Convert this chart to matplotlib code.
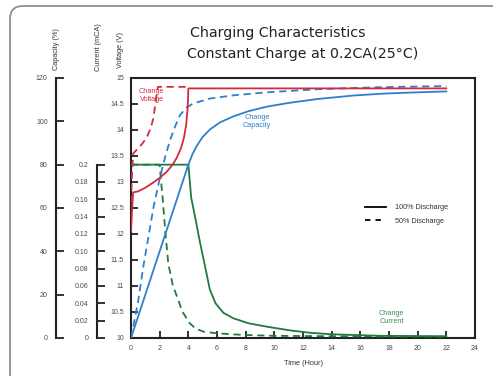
import matplotlib
matplotlib.use('Agg')
import matplotlib.pyplot as plt
from matplotlib.lines import Line2D
from matplotlib.patches import FancyBboxPatch
from matplotlib.transforms import IdentityTransform

# ---------------- data ----------------
# Voltage (V), 100% discharge (solid) and 50% discharge (dashed)
volt100_t = [0, 0.08, 0.15, 0.5, 1.0, 1.5, 2.0, 2.5, 2.9, 3.2, 3.5, 3.7, 3.85, 3.94, 3.98, 4.0, 22]
volt100_v = [12.05, 12.5, 12.8, 12.82, 12.89, 12.98, 13.08, 13.2, 13.33, 13.47, 13.66, 13.86, 14.1, 14.38, 14.6, 14.8, 14.8]
volt50_t = [0, 0.08, 0.16, 0.5, 0.8, 1.1, 1.35, 1.56, 1.7, 1.82, 1.88, 4.0]
volt50_v = [12.6, 13.25, 13.55, 13.65, 13.74, 13.86, 14.02, 14.22, 14.5, 14.75, 14.83, 14.83]

# Capacity (%)
cap100_t = [0, 4.0, 4.3, 4.6, 5.0, 5.5, 6.2, 7.15, 8.2, 9.5, 11, 13, 15.5, 17.6, 20, 22]
cap100_v = [0, 80, 85, 88.8, 92.8, 96.2, 99.5, 102.3, 104.7, 106.8, 108.5, 110.3, 111.9, 112.8, 113.4, 113.8]
cap50_t = [0, 0.5, 0.86, 1.2, 1.56, 2.03, 2.4, 2.73, 3.1, 3.43, 3.9, 4.36, 5.5, 7.15, 9.5, 13, 17, 22]
cap50_v = [0, 17, 33, 46, 60, 74.4, 84, 91.4, 98, 103, 106.5, 108.3, 110.5, 112, 113.4, 114.8, 115.7, 116.3]

# Current (CA)
cur100_t = [0, 4.0, 4.2, 4.5, 4.83, 5.2, 5.5, 5.9, 6.45, 7.15, 8.2, 9.5, 11, 12.5, 14, 17.4, 22]
cur100_v = [0.2, 0.2, 0.162, 0.137, 0.109, 0.08, 0.056, 0.04, 0.029, 0.0227, 0.017, 0.013, 0.009, 0.006, 0.0043, 0.0025, 0.002]
cur50_t = [0, 2.0, 2.1, 2.2, 2.38, 2.6, 2.9, 3.2, 3.6, 4.1, 4.5, 5.06, 6.0, 7.85, 10, 14, 22]
cur50_v = [0.2, 0.2, 0.18, 0.163, 0.125, 0.086, 0.062, 0.048, 0.03, 0.017, 0.011, 0.0073, 0.0054, 0.0035, 0.0025, 0.002, 0.0015]

x_ticks = list(range(0, 25, 2))
volt_ticks = [10, 10.5, 11, 11.5, 12, 12.5, 13, 13.5, 14, 14.5, 15]
volt_labels = ['10', '10.5', '11', '11.5', '12', '12.5', '13', '13.5', '14', '14.5', '15']
cur_ticks = [0, 0.02, 0.04, 0.06, 0.08, 0.10, 0.12, 0.14, 0.16, 0.18, 0.2]
cur_labels = ['0', '0.02', '0.04', '0.06', '0.08', '0.10', '0.12', '0.14', '0.16', '0.18', '0.2']
cap_ticks = [0, 20, 40, 60, 80, 100, 120]

RED = '#d42a3e'
BLUE = '#2f7fcc'
GREEN = '#207a3e'
TXT = '#4a4a4a'
SPINE = '#222222'
FONT = 'Liberation Sans'

W, H = 493, 376
fig = plt.figure(figsize=(W / 100, H / 100), dpi=100)

# outer rounded frame
frame = FancyBboxPatch((10, -12), 520, H - 6 + 12, boxstyle='round,pad=0,rounding_size=13',
                       transform=IdentityTransform(), facecolor='none', edgecolor='#8f8f8f',
                       linewidth=1.3, zorder=-5)
fig.patches.append(frame)

L, R, T, B = 131, 475, 78, 338
ax = fig.add_axes([L / W, 1 - B / H, (R - L) / W, (B - T) / H])
ax.patch.set_alpha(0)
ax.set_xlim(0, 24)
ax.set_ylim(10, 15)
for s in ax.spines.values():
    s.set_linewidth(1.5)
    s.set_color(SPINE)

ax_cur = ax.twinx()
ax_cap = ax.twinx()
for a, pos, lim, bnd in [(ax_cur, (97 - L) / (R - L), (0, 0.3), (0, 0.2)),
                         (ax_cap, (56 - L) / (R - L), (0, 120), (0, 120))]:
    a.set_ylim(*lim)
    for k in ['top', 'bottom', 'right']:
        a.spines[k].set_visible(False)
    a.spines['left'].set_visible(True)
    a.spines['left'].set_position(('axes', pos))
    a.spines['left'].set_bounds(*bnd)
    a.spines['left'].set_linewidth(1.5)
    a.spines['left'].set_color(SPINE)
    a.yaxis.set_ticks_position('left')
    a.yaxis.set_label_position('left')

dash = (0, (4, 2.6))
lw = 1.3
# current
ax_cur.plot(cur50_t, cur50_v, color=GREEN, lw=lw, linestyle=dash)
ax_cur.plot(cur100_t, cur100_v, color=GREEN, lw=lw)
# capacity
ax_cap.plot(cap50_t, cap50_v, color=BLUE, lw=lw, linestyle=dash)
ax_cap.plot(cap100_t, cap100_v, color=BLUE, lw=lw)
# voltage drawn on top via separate overlay axis sharing limits
ax_v = ax.twinx()
ax_v.set_ylim(10, 15)
ax_v.axis('off')
ax_v.plot(volt50_t, volt50_v, color=RED, lw=lw, linestyle=dash)
ax_v.plot(volt100_t, volt100_v, color=RED, lw=lw)

# ticks
ax.set_xticks(x_ticks)
ax.set_xticklabels([str(t) for t in x_ticks])
ax.set_yticks(volt_ticks)
ax.set_yticklabels(volt_labels)
ax.tick_params(axis='both', direction='in', length=5, width=1.3, color=SPINE,
               labelsize=5, labelcolor=TXT, pad=5)
ax_cur.set_yticks(cur_ticks)
ax_cur.set_yticklabels(cur_labels)
ax_cur.tick_params(axis='y', direction='in', length=6, width=1.3, color=SPINE,
                   labelsize=5, labelcolor=TXT, pad=6)
ax_cap.set_yticks(cap_ticks)
ax_cap.set_yticklabels([str(t) for t in cap_ticks])
ax_cap.tick_params(axis='y', direction='in', length=6, width=1.3, color=SPINE,
                   labelsize=5, labelcolor=TXT, pad=6)
for a in [ax, ax_cur, ax_cap]:
    for lab in a.get_xticklabels() + a.get_yticklabels():
        lab.set_fontfamily(FONT)

ax.set_xlabel('Time (Hour)', fontsize=5.3, color='#333333', family=FONT, labelpad=6)

# axis titles
fig.text(57 / W, 1 - 49 / H, 'Capacity (%)', rotation=90, ha='center', va='center',
         fontsize=5.3, color='#333333', family=FONT)
fig.text(98.5 / W, 1 - 47 / H, 'Current (mCA)', rotation=90, ha='center', va='center',
         fontsize=5.3, color='#333333', family=FONT)
fig.text(120.5 / W, 1 - 50 / H, 'Voltage (V)', rotation=90, ha='center', va='center',
         fontsize=5.3, color='#333333', family=FONT)

# titles
fig.text(278 / W, 1 - 33 / H, 'Charging Characteristics', ha='center', va='center',
         fontsize=10.3, color='#222222', family='DejaVu Sans')
fig.text(302.5 / W, 1 - 54 / H, 'Constant Charge at 0.2CA(25°C)', ha='center', va='center',
         fontsize=10.3, color='#222222', family='DejaVu Sans')

# annotations
ax_v.text(1.45, 14.67, 'Change\nVoltage', color=RED, fontsize=5.3, family=FONT,
          ha='center', va='center', linespacing=1.25)
ax_v.text(8.8, 14.17, 'Change\nCapacity', color=BLUE, fontsize=5.3, family=FONT,
          ha='center', va='center', linespacing=1.25)
ax_v.text(18.2, 10.4, 'Change\nCurrent', color='#3a9060', fontsize=5.3, family=FONT,
          ha='center', va='center', linespacing=1.25)

# legend
handles = [Line2D([], [], color='black', lw=1.3),
           Line2D([], [], color='black', lw=1.3, linestyle=(0, (3, 2.8)))]
leg = ax_v.legend(handles, ['100% Discharge', '50% Discharge'], loc='center left',
                  bbox_to_anchor=((365 - L) / (R - L), (B - 214.5) / (B - T)),
                  frameon=False, fontsize=5.2, handlelength=2.9, handletextpad=1.2,
                  labelspacing=0.85, borderpad=0, borderaxespad=0)
for t in leg.get_texts():
    t.set_color('#333333')
    t.set_fontfamily(FONT)

fig.savefig('out.png', dpi=100)
